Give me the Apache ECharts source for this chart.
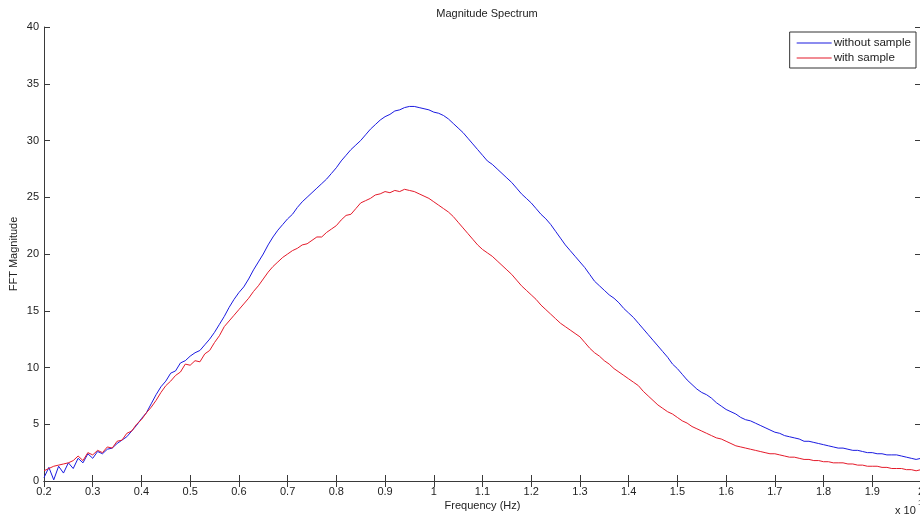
<!DOCTYPE html>
<html>
<head>
<meta charset="utf-8">
<script src="https://cdn.jsdelivr.net/npm/echarts@6/dist/echarts.min.js"></script>
<style>
html,body{margin:0;padding:0;background:#fff;overflow:hidden;}
#chart{width:920px;height:515px;}
</style>
</head>
<body>
<div id="chart"></div>
<script>
// Frequency grid (x 10^12 Hz): 0.20 .. 2.00 in steps of 0.01
const freqStart = 0.2;
const freqStep = 0.01;

const withoutSample = [
0.3,1.2,0.1,1.3,0.7,1.6,1.1,2.0,1.6,2.4,
2.0,2.6,2.4,2.8,2.9,3.3,3.6,3.9,4.4,4.9,
5.5,6.0,6.8,7.6,8.3,8.8,9.5,9.7,10.4,10.6,
11.0,11.3,11.5,12.0,12.5,13.1,13.8,14.5,15.3,16.0,
16.6,17.1,17.8,18.6,19.3,20.0,20.8,21.5,22.1,22.6,
23.1,23.5,24.1,24.6,25.0,25.4,25.8,26.2,26.6,27.1,
27.6,28.2,28.7,29.2,29.6,30.0,30.5,31.0,31.4,31.8,
32.1,32.3,32.6,32.7,32.9,33.0,33.0,32.9,32.8,32.7,
32.5,32.4,32.2,31.9,31.5,31.1,30.7,30.2,29.7,29.2,
28.7,28.2,27.9,27.5,27.1,26.7,26.3,25.8,25.3,24.9,
24.5,24.0,23.5,23.1,22.6,22.0,21.4,20.8,20.3,19.8,
19.3,18.8,18.2,17.6,17.2,16.8,16.4,16.1,15.7,15.2,
14.8,14.4,13.9,13.4,12.9,12.4,11.9,11.4,10.9,10.3,
9.9,9.4,8.9,8.5,8.1,7.8,7.6,7.3,6.9,6.6,
6.3,6.1,5.9,5.6,5.4,5.3,5.1,4.9,4.7,4.5,
4.3,4.2,4.0,3.9,3.8,3.7,3.5,3.5,3.4,3.3,
3.2,3.1,3.0,2.9,2.9,2.8,2.7,2.7,2.6,2.5,
2.5,2.4,2.4,2.3,2.3,2.3,2.2,2.1,2.0,1.9,
2.0
];

const withSample = [
0.9,1.1,1.3,1.4,1.5,1.6,1.8,2.2,1.8,2.5,
2.3,2.7,2.5,3.0,2.9,3.5,3.6,4.2,4.4,5.0,
5.4,6.0,6.5,7.1,7.8,8.4,8.8,9.3,9.6,10.3,
10.2,10.6,10.5,11.2,11.5,12.2,12.8,13.6,14.1,14.6,
15.1,15.6,16.1,16.7,17.2,17.8,18.4,18.9,19.3,19.7,
20.0,20.3,20.5,20.8,20.9,21.2,21.5,21.5,21.9,22.2,
22.5,23.0,23.4,23.5,24.0,24.5,24.7,24.9,25.2,25.3,
25.5,25.4,25.6,25.5,25.7,25.6,25.5,25.3,25.1,24.9,
24.6,24.3,24.0,23.7,23.3,22.8,22.3,21.8,21.3,20.8,
20.4,20.1,19.8,19.4,19.0,18.6,18.2,17.7,17.2,16.8,
16.4,16.0,15.5,15.1,14.7,14.3,13.9,13.6,13.3,13.0,
12.7,12.2,11.7,11.3,11.0,10.6,10.3,9.9,9.6,9.3,
9.0,8.7,8.4,7.9,7.5,7.1,6.7,6.4,6.1,5.9,
5.6,5.3,5.1,4.8,4.6,4.4,4.2,4.0,3.8,3.7,
3.5,3.3,3.1,3.0,2.9,2.8,2.7,2.6,2.5,2.4,
2.4,2.3,2.2,2.1,2.1,2.0,1.9,1.9,1.8,1.8,
1.7,1.7,1.6,1.6,1.6,1.5,1.5,1.4,1.4,1.3,
1.3,1.3,1.2,1.2,1.1,1.1,1.1,1.0,1.0,0.9,
1.0
];

const seriesNames = ['without sample', 'with sample'];
const titleText = 'Magnitude Spectrum';
const xAxisName = 'Frequency (Hz)';
const yAxisName = 'FFT Magnitude';

function pairs(vals) {
  return vals.map((v, i) => [+(freqStart + i * freqStep).toFixed(2), v]);
}

const FONT = 'Liberation Sans, Arial, sans-serif';
const AX = '#3a3a3a';
const TXT = '#222';
const chart = echarts.init(document.getElementById('chart'), null, {renderer: 'canvas'});

const fmt = v => String(+(+v).toFixed(1));

chart.setOption({
  animation: false,
  backgroundColor: '#ffffff',
  title: {
    text: titleText,
    left: 482, top: 3, textAlign: 'center',
    textStyle: {fontFamily: FONT, fontSize: 11, fontWeight: 'normal', color: TXT}
  },
  legend: {
    data: seriesNames,
    orient: 'vertical',
    right: 4, top: 32,
    backgroundColor: '#fff',
    borderColor: '#333', borderWidth: 1,
    padding: [5, 5, 4, 7],
    itemGap: 3,
    itemWidth: 35, itemHeight: 1,
    icon: 'rect',
    textStyle: {fontFamily: FONT, fontSize: 11.6, color: TXT, padding: [0, 0, 0, -3]}
  },
  grid: {left: 44, top: 27, width: 877, height: 454, containLabel: false, outerBoundsMode: 'none'},
  xAxis: [{
    type: 'value', min: 0.2, max: 2.0, interval: 0.1,
    position: 'bottom',
    name: xAxisName, nameLocation: 'middle', nameGap: 19, nameMoveOverlap: false,
    nameTextStyle: {fontFamily: FONT, fontSize: 11, color: TXT},
    axisLine: {show: true, lineStyle: {color: AX, width: 1}},
    axisTick: {show: true, inside: true, length: 6, lineStyle: {color: AX}},
    axisLabel: {fontFamily: FONT, fontSize: 11, color: TXT, margin: 5, formatter: fmt, showMaxLabel: true, showMinLabel: true},
    splitLine: {show: false}
  }, {
    type: 'value', min: 0.2, max: 2.0, interval: 0.1,
    position: 'top',
    axisLine: {show: true, lineStyle: {color: AX, width: 1}},
    axisTick: {show: true, inside: true, length: 6, lineStyle: {color: AX}},
    axisLabel: {show: false},
    splitLine: {show: false}
  }],
  yAxis: [{
    type: 'value', min: 0, max: 40, interval: 5,
    position: 'left',
    name: yAxisName, nameLocation: 'middle', nameGap: 25, nameRotate: 90, nameMoveOverlap: false,
    nameTextStyle: {fontFamily: FONT, fontSize: 11, color: TXT},
    axisLine: {show: true, lineStyle: {color: AX, width: 1}},
    axisTick: {show: true, inside: true, length: 6, lineStyle: {color: AX}},
    axisLabel: {fontFamily: FONT, fontSize: 11, color: TXT, margin: 5},
    splitLine: {show: false}
  }, {
    type: 'value', min: 0, max: 40, interval: 5,
    position: 'right',
    axisLine: {show: true, lineStyle: {color: AX, width: 1}},
    axisTick: {show: true, inside: true, length: 6, lineStyle: {color: AX}},
    axisLabel: {show: false},
    splitLine: {show: false}
  }],
  series: [{
    name: seriesNames[0], type: 'line', data: pairs(withoutSample),
    xAxisIndex: 0, yAxisIndex: 0,
    showSymbol: false, symbol: 'none',
    lineStyle: {color: '#1a1ae0', width: 1}, itemStyle: {color: '#1a1ae0'}
  }, {
    name: seriesNames[1], type: 'line', data: pairs(withSample),
    xAxisIndex: 0, yAxisIndex: 0,
    showSymbol: false, symbol: 'none',
    lineStyle: {color: '#e41a2a', width: 1}, itemStyle: {color: '#e41a2a'}
  }],
  graphic: [{
    type: 'text', left: 895, top: 505,
    style: {text: 'x 10', font: '11px ' + FONT, fill: TXT}
  }, {
    type: 'text', left: 918, top: 499,
    style: {text: '12', font: '8px ' + FONT, fill: TXT}
  }]
});
</script>
</body>
</html>
